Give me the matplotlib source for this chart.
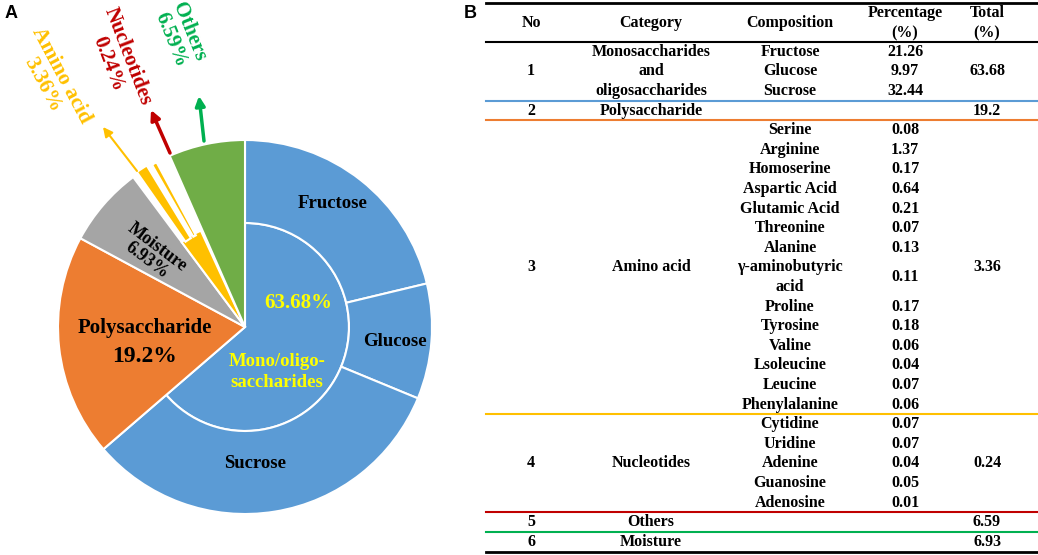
import matplotlib.pyplot as plt
from matplotlib.patches import Wedge

# ---- pie data (clockwise from 12 o'clock) ----
sugar_names = ["Fructose", "Glucose", "Sucrose"]
sugar_pct = [21.26, 9.97, 32.44]
sugar_total = 63.68
poly_pct = 19.2
moisture_pct = 6.93
amino_pct = 3.36
nucleotide_pct = 0.24
others_pct = 6.59

# ---- table data ----
no_list = ["1", "2", "3", "4", "5", "6"]
category_list = ["Monosaccharides\nand\noligosaccharides", "Polysaccharide", "Amino acid",
                 "Nucleotides", "Others", "Moisture"]
amino_names = ["Serine", "Arginine", "Homoserine", "Aspartic Acid", "Glutamic Acid", "Threonine",
               "Alanine", "γ-aminobutyric\nacid", "Proline", "Tyrosine", "Valine", "Lsoleucine",
               "Leucine", "Phenylalanine"]
amino_values = [0.08, 1.37, 0.17, 0.64, 0.21, 0.07, 0.13, 0.11, 0.17, 0.18, 0.06, 0.04, 0.07, 0.06]
nucleotide_names = ["Cytidine", "Uridine", "Adenine", "Guanosine", "Adenosine"]
nucleotide_values = [0.07, 0.07, 0.04, 0.05, 0.01]
total_list = [63.68, 19.2, 3.36, 0.24, 6.59, 6.93]

BLUE = "#5B9BD5"
ORANGE = "#ED7D31"
GREY = "#A5A5A5"
YELLOW = "#FFC000"
GREEN = "#70AD47"
RED = "#C00000"
BGREEN = "#00B050"
SERIF = "Liberation Serif"

W, H = 1038, 555
fig = plt.figure(figsize=(W / 100, H / 100), dpi=100)
ax = fig.add_axes([0, 0, 1, 1])
ax.set_xlim(0, W)
ax.set_ylim(H, 0)
ax.axis("off")

# ---- pie (pixel coordinates, y down -> theta = angle clockwise from top - 90) ----
cx, cy = 245, 327
R, r_in = 187, 104
EDGE = dict(edgecolor="white", linewidth=1.5)


def wedge(start, end, color, r=R, width=None):
    ax.add_patch(Wedge((cx, cy), r, start * 3.6 - 90, end * 3.6 - 90, width=width,
                       facecolor=color, **EDGE))


pos = 0
ax.add_patch(Wedge((cx, cy), r_in, -90, sugar_total * 3.6 - 90, facecolor=BLUE, **EDGE))
for v in sugar_pct:
    wedge(pos, pos + v, BLUE, width=R - r_in)
    pos += v
wedge(pos, pos + poly_pct, ORANGE)
pos += poly_pct
wedge(pos, pos + moisture_pct, GREY)
pos += moisture_pct
# amino acids: inner wedge plus a strip in the outer ring
a0 = pos * 3.6 - 90
ax.add_patch(Wedge((cx, cy), r_in + 2, a0, (pos + amino_pct) * 3.6 - 90, facecolor=YELLOW, **EDGE))
ax.add_patch(Wedge((cx, cy), R + 2, a0 + 1.8, a0 + 5.4, width=R + 2 - r_in, facecolor=YELLOW, **EDGE))
pos += amino_pct
# nucleotides: thin strip
ax.add_patch(Wedge((cx, cy), R, a0 + 6.9, a0 + 6.9 + max(nucleotide_pct * 3.6, 1.6),
                   width=R - r_in, facecolor=YELLOW, **EDGE))
pos += nucleotide_pct
wedge(pos, 100, GREEN)

# pie labels
tb = dict(family=SERIF, fontweight="bold", ha="center", va="center")
ax.text(333, 204, sugar_names[0], fontsize=13.5, **tb)
ax.text(395, 342, sugar_names[1], fontsize=13.5, **tb)
ax.text(255, 463, sugar_names[2], fontsize=13.5, **tb)
ax.text(298, 303, f"{sugar_total}%", fontsize=15, color="#FFFF00", **tb)
ax.text(277, 372, "Mono/oligo-\nsaccharides", fontsize=13.5, color="#FFFF00", linespacing=1.25, **tb)
ax.text(145, 328, "Polysaccharide", fontsize=15, **tb)
ax.text(145, 356, f"{poly_pct}%", fontsize=17, **tb)
ax.text(152, 254, f"Moisture\n{moisture_pct}%", fontsize=13, rotation=-37,
        rotation_mode="anchor", linespacing=0.95, **tb)
ax.text(52, 80, f"Amino acid\n{amino_pct}%", fontsize=15.5, color=YELLOW, rotation=-62,
        rotation_mode="anchor", linespacing=1.05, **tb)
ax.text(118, 60, f"Nucleotides\n{nucleotide_pct}%", fontsize=15, color=RED, rotation=-69,
        rotation_mode="anchor", linespacing=1.05, **tb)
ax.text(180, 36, f"Others\n{others_pct}%", fontsize=15, color=BGREEN, rotation=-68,
        rotation_mode="anchor", linespacing=1.05, **tb)

# arrows
for tail, head, col, lw in [((137, 171), (103, 127), YELLOW, 1.5),
                            ((170, 153), (151, 110), RED, 2.5),
                            ((204, 141), (199, 96), BGREEN, 2.5)]:
    ax.annotate("", xy=head, xytext=tail,
                arrowprops=dict(arrowstyle="-|>", color=col, lw=lw, mutation_scale=14,
                                shrinkA=0, shrinkB=0))

# panel letters
ax.text(11, 14, "A", family="Liberation Sans", fontweight="bold", fontsize=13, ha="center", va="center")
ax.text(470, 14, "B", family="Liberation Sans", fontweight="bold", fontsize=13, ha="center", va="center")

# ---- table ----
x0, x1 = 486, 1038
col_no, col_cat, col_comp, col_pct, col_tot = 531, 651, 790, 905, 987
fs = 11.5
tt = dict(family=SERIF, fontweight="bold", fontsize=fs, ha="center", va="center")

ax.plot([x0, x1], [3, 3], color="black", lw=2)
ax.text(col_no, 23, "No", **tt)
ax.text(col_cat, 23, "Category", **tt)
ax.text(col_comp, 23, "Composition", **tt)
ax.text(col_pct, 13, "Percentage", **tt)
ax.text(col_pct, 33, "(%)", **tt)
ax.text(col_tot, 13, "Total", **tt)
ax.text(col_tot, 33, "(%)", **tt)
ax.plot([x0, x1], [42, 42], color="black", lw=1.5)

y_start, step = 42, 19.6
comp_groups = [(sugar_names, sugar_pct), ([], []), (amino_names, amino_values),
               (nucleotide_names, nucleotide_values), ([], []), ([], [])]
rule_colors = [BLUE, ORANGE, YELLOW, RED, BGREEN, "black"]


def row_y(k):
    return y_start + (k + 0.5) * step


k = 0
for no, cat, (names, vals), tot, rc in zip(no_list, category_list, comp_groups, total_list, rule_colors):
    k0 = k
    for name, val in zip(names, vals):
        lines = name.split("\n")
        for j, ln in enumerate(lines):
            ax.text(col_comp, row_y(k + j), ln, **tt)
        ax.text(col_pct, (row_y(k) + row_y(k + len(lines) - 1)) / 2, f"{val:g}", **tt)
        k += len(lines)
    if not names:
        k += 1
    yc = (row_y(k0) + row_y(k - 1)) / 2
    cat_lines = cat.split("\n")
    for j, ln in enumerate(cat_lines):
        ax.text(col_cat, yc + (j - (len(cat_lines) - 1) / 2) * step, ln, **tt)
    ax.text(col_no, yc, no, **tt)
    ax.text(col_tot, yc, f"{tot:g}", **tt)
    yl = y_start + k * step
    ax.plot([x0, x1], [yl, yl], color=rc, lw=2 if rc == "black" else 1.5)

fig.savefig("out.png", dpi=100)
